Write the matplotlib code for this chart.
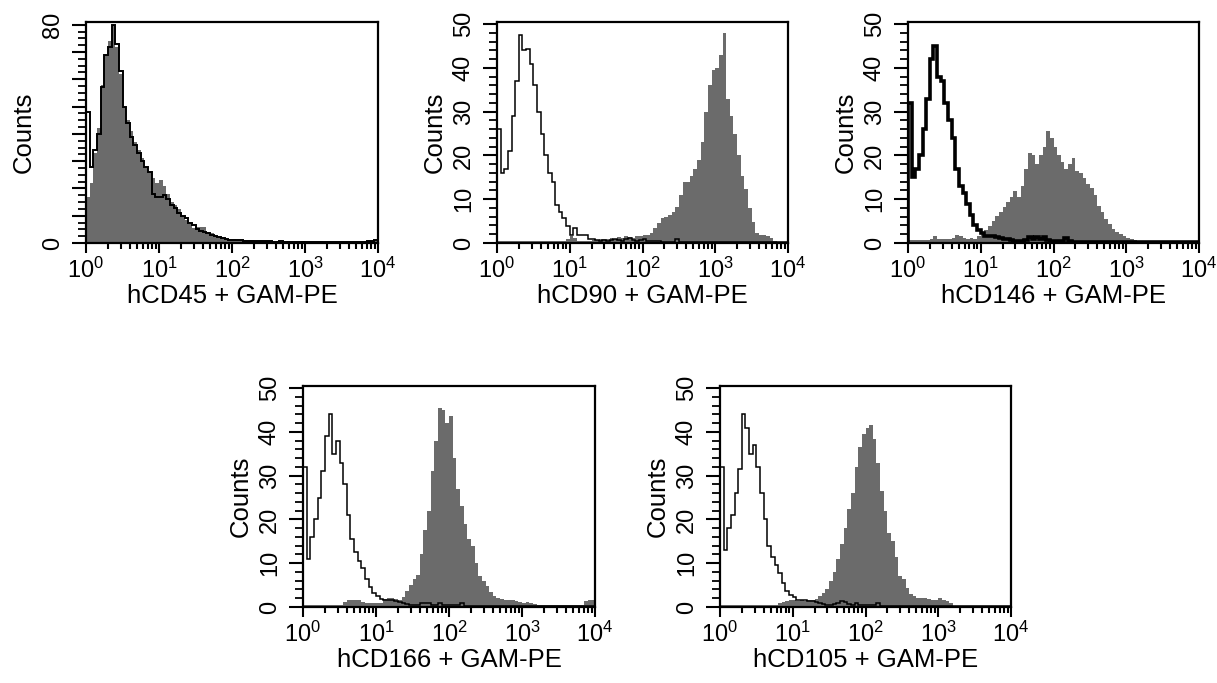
import numpy as np
import matplotlib
matplotlib.use("Agg")
import matplotlib.pyplot as plt
from matplotlib.ticker import LogLocator, FuncFormatter, MultipleLocator, NullFormatter

plt.rcParams['font.family'] = ['Liberation Sans', 'DejaVu Sans']
plt.rcParams['mathtext.default'] = 'regular'

# ---- data: 20 channels per decade, 10^0 .. 10^4 ----
bins_per_decade = 20
n_decades = 4

xlabels = ["hCD45 + GAM-PE", "hCD90 + GAM-PE", "hCD146 + GAM-PE",
           "hCD166 + GAM-PE", "hCD105 + GAM-PE"]
ymaxes = [81, 50.5, 50.5, 50.5, 50.5]
ytick_labels_shown = [[0, 80], [0, 10, 20, 30, 40, 50], [0, 10, 20, 30, 40, 50],
                      [0, 10, 20, 30, 40, 50], [0, 10, 20, 30, 40, 50]]

cd45_stained = [
    17, 22, 33, 42, 58, 69, 74, 80, 72, 62,
    50, 45, 41, 37, 34, 31, 28, 26, 24, 22,
    23, 21, 18, 15, 14, 12.5, 10, 8.5, 7, 5.5,
    5.8, 6, 6, 4.2, 3.6, 3, 2.4, 1.8, 1.6, 1.5,
    1.4, 1.2, 1.2, 1.0, 1.0, 1.0, 0.8, 0.8, 0.7, 0.7,
    0.6, 0.5, 0.6, 0.5, 0.4, 0.6, 0.5, 0.4, 0.5, 0.6,
    0.4, 0.5, 0.4, 0.5, 0.6, 0.4, 0.4, 0.5, 0.4, 0.5,
    0.4, 0.4, 0.5, 0.4, 0.4, 0.5, 0.4, 0.6, 0.6, 0.8]
cd45_control = [
    48, 28, 34, 40, 57, 69, 72, 80, 73, 63,
    50, 44, 39, 36, 33, 30, 28, 26, 18, 17,
    17, 17.5, 16, 14, 12.7, 11, 10, 9, 7.5, 6.5,
    5, 4.5, 4, 3.6, 3, 2.5, 2.2, 1.8, 1.4, 1.2,
    1.1, 1.0, 1.0, 0.9, 0.9, 0.8, 0.8, 0.7, 0.7, 0.6,
    0.6, 0.5, 0.5, 0.6, 0.5, 0.4, 0.5, 0.5, 0.4, 0.5,
    0.5, 0.4, 0.4, 0.5, 0.5, 0.4, 0.4, 0.5, 0.4, 0.4,
    0.5, 0.4, 0.4, 0.5, 0.4, 0.4, 0.5, 0.6, 0.8, 1.0]

cd90_stained = [
    0.4, 0.4, 0.4, 0.4, 0.4, 0.4, 0.4, 0.4, 0.4, 0.4,
    0.4, 0.4, 0.4, 0.4, 0.4, 0.4, 0.4, 0.4, 0.4, 0.8,
    1.5, 1.2, 0.5, 0.5, 0.5, 0.5, 0.6, 0.6, 0.8, 1.0,
    1.0, 1.2, 1.0, 1.3, 1.2, 1.5, 1.4, 1.2, 1.5, 1.6,
    1.8, 1.8, 2.3, 3.4, 4.5, 5.6, 6, 6.4, 7.1, 8.3,
    10.9, 13.9, 14, 15.4, 17, 19, 23, 30, 36, 39.5,
    40, 43, 48, 33, 29, 25, 20, 15.4, 12.4, 7.9,
    4.9, 2.3, 1.9, 1.9, 1.7, 1.1, 0.4, 0, 0, 0]
cd90_control = [
    26, 16, 17, 21, 29, 37, 47.5, 44, 44.4, 41,
    36, 30, 25, 20, 16, 14, 8.6, 7, 5.6, 3.8,
    1.9, 3.4, 1.9, 1.9, 1.9, 1.0, 0.8, 0.6, 0.5, 0.6,
    0.5, 0.6, 1.0, 0.6, 0.5, 1.0, 1.2, 0.6, 0.5, 0.6,
    1.0, 0.5, 0.4, 0.4, 0.4, 0.3, 0.3, 0.3, 0.3, 1.0,
    0.3, 0.3, 0.3, 0.3, 0.3, 0.3, 0.3, 0.3, 0.3, 0.3,
    0.2, 0.2, 0.2, 0.2, 0.2, 0.2, 0.2, 0.2, 0.2, 0.2,
    0.2, 0.2, 0.2, 0.2, 0.2, 0.2, 0.2, 0.2, 0.2, 0.2]

cd146_stained = [
    0.6, 0.6, 0.6, 0.7, 0.6, 0.7, 1.0, 1.7, 0.8, 0.8,
    1.0, 1.0, 1.2, 1.8, 1.5, 1.2, 1.0, 1.2, 1.0, 1.5,
    2.2, 3.0, 3.8, 5.0, 6.2, 7.0, 8.2, 9.3, 10.5, 11.8,
    10.5, 13, 17, 20.5, 20, 18, 20, 22, 25.5, 24,
    22, 20, 18.4, 17, 18, 19.5, 16.5, 16, 14.8, 13.5,
    12.5, 11, 8.5, 7, 5.5, 4.4, 3.3, 2.5, 2.0, 1.5,
    1.2, 1.0, 0.6, 0.3, 0, 0, 0, 0, 0, 0,
    0, 0, 0, 0, 0, 0, 0, 0, 0, 0]
cd146_control = [
    32, 15, 17, 20, 26, 33, 42, 45, 38, 37,
    32, 28, 24, 17, 13, 11.5, 9, 6.5, 4.2, 3,
    2.3, 1.7, 1.6, 1.5, 1.3, 1.1, 1.0, 0.8, 0.6, 0.5,
    0.4, 0.5, 0.6, 1.3, 1.0, 1.4, 0.8, 1.3, 0.6, 0.4,
    0.4, 0.4, 0.4, 1.2, 0.5, 0.3, 0.3, 0.3, 0.3, 0.3,
    0.3, 0.3, 0.3, 0.3, 0.3, 0.3, 0.3, 0.3, 0.3, 0.3,
    0.2, 0.2, 0.2, 0.2, 0.2, 0.2, 0.2, 0.2, 0.2, 0.2,
    0.2, 0.2, 0.2, 0.2, 0.2, 0.2, 0.2, 0.2, 0.2, 0.2]

cd166_stained = [
    0.5, 0.5, 0.5, 0.5, 0.5, 0.5, 0.5, 0.5, 0.5, 0.5,
    0.5, 1.2, 1.7, 1.5, 1.7, 1.6, 1.2, 1.0, 0.8, 0.8,
    0.8, 1.0, 1.8, 2.0, 2.0, 1.8, 1.5, 2.2, 3.6, 5.0,
    6.3, 7.4, 12, 17.6, 22, 31, 38, 45.5, 45, 42,
    43.6, 34, 27, 23, 19, 15.5, 14, 10, 7, 6,
    4.8, 3.4, 2.4, 2.0, 1.8, 1.7, 1.7, 1.5, 1.4, 1.1,
    1.0, 1.2, 1.0, 0.6, 0.4, 0.4, 0.4, 0.4, 0.4, 0.4,
    0.4, 0.4, 0.4, 0.4, 0.4, 0.4, 0.4, 1.4, 1.7, 1.7]
cd166_control = [
    32, 11, 16, 20, 25, 31, 39, 44, 35, 38,
    33, 28, 21, 15.5, 12.5, 10.5, 9, 6.5, 4.5, 3.3,
    2.5, 1.8, 1.7, 1.6, 1.5, 1.3, 1.1, 0.8, 0.6, 0.5,
    0.4, 0.5, 0.9, 1.0, 1.0, 0.5, 0.5, 1.0, 0.5, 0.4,
    0.4, 0.4, 0.4, 1.0, 0.3, 0.3, 0.3, 0.3, 0.3, 0.3,
    0.3, 0.3, 0.3, 0.3, 0.3, 0.3, 0.3, 0.3, 0.3, 0.3,
    0.2, 0.2, 0.2, 0.2, 0.2, 0.2, 0.2, 0.2, 0.2, 0.2,
    0.2, 0.2, 0.2, 0.2, 0.2, 0.2, 0.2, 0.2, 0.2, 0.2]

cd105_stained = [
    0.4, 0.4, 0.4, 0.4, 0.4, 0.4, 0.4, 0.4, 0.4, 0.4,
    0.4, 0.4, 0.4, 0.4, 0.4, 0.4, 0.8, 1.2, 1.4, 1.5,
    1.5, 1.3, 1.5, 1.4, 1.5, 1.6, 1.8, 2.5, 3.3, 4.2,
    6.0, 8.0, 11, 14.5, 18, 22.5, 26, 32, 36.5, 39.5,
    41, 41.7, 38.5, 33, 26.5, 22, 17, 15, 11.5, 7,
    6.3, 4.4, 2.9, 2.4, 2.1, 2.0, 2.0, 1.8, 1.7, 1.7,
    2.1, 1.6, 1.3, 1.0, 0.3, 0, 0, 0, 0, 0,
    0, 0, 0, 0, 0, 0, 0, 0, 0, 0]
cd105_control = [
    32, 13, 18, 21, 26, 31.5, 44, 41, 35, 37,
    32, 26, 20, 14, 11.5, 9.5, 7.8, 5.5, 3.6, 2.8,
    2.2, 1.7, 1.6, 1.5, 1.4, 1.4, 1.2, 1.0, 0.6, 0.5,
    0.5, 0.6, 1.0, 1.3, 1.2, 0.6, 0.5, 1.0, 0.5, 0.4,
    0.4, 0.4, 0.4, 1.0, 0.3, 0.3, 0.3, 0.3, 0.3, 0.3,
    0.3, 0.3, 0.3, 0.3, 0.3, 0.3, 0.3, 0.3, 0.3, 0.3,
    0.2, 0.2, 0.2, 0.2, 0.2, 0.2, 0.2, 0.2, 0.2, 0.2,
    0.2, 0.2, 0.2, 0.2, 0.2, 0.2, 0.2, 0.2, 0.2, 0.2]

stained = [cd45_stained, cd90_stained, cd146_stained, cd166_stained, cd105_stained]
control = [cd45_control, cd90_control, cd146_control, cd166_control, cd105_control]

# ---- layout (pixel boxes of the plot frames) ----
W, H = 1217, 683
boxes = [(86, 22, 378, 243), (497, 22, 788, 243), (908, 22, 1199, 243),
         (303, 386, 595, 607), (720, 386, 1011, 607)]
line_widths = [1.4, 1.1, 2.6, 1.1, 1.1]
yminor_step = [2.5, 2, 2, 2, 2]

edges = 10.0 ** (np.arange(bins_per_decade * n_decades + 1) / bins_per_decade)

fig = plt.figure(figsize=(W / 100, H / 100), dpi=100)
fig.patch.set_facecolor('white')

gray = '#6b6b6b'
for k in range(5):
    l, t, r, b = boxes[k]
    ax = fig.add_axes([l / W, 1 - b / H, (r - l) / W, (b - t) / H])
    ax.stairs(stained[k], edges, baseline=0, fill=True, color=gray, lw=0, zorder=2)
    ax.stairs(control[k], edges, baseline=0, fill=False, color='black',
              lw=line_widths[k], zorder=3)
    ax.set_xscale('log')
    ax.set_xlim(1, 1e4)
    ax.set_ylim(0, ymaxes[k])

    ax.xaxis.set_major_locator(LogLocator(base=10, numticks=10))
    ax.xaxis.set_minor_locator(LogLocator(base=10, subs=np.arange(2, 10), numticks=20))
    ax.xaxis.set_major_formatter(FuncFormatter(lambda v, p: r'$10^{%d}$' % round(np.log10(v))))
    ax.xaxis.set_minor_formatter(NullFormatter())

    shown = ytick_labels_shown[k]
    ax.yaxis.set_major_locator(MultipleLocator(10))
    ax.yaxis.set_minor_locator(MultipleLocator(yminor_step[k]))
    ax.yaxis.set_major_formatter(FuncFormatter(
        lambda v, p, s=shown: ('%d' % round(v)) if round(v) in s and abs(v - round(v)) < 1e-6 else ''))

    ax.tick_params(axis='x', which='major', direction='out', length=7.5, width=1.5,
                   labelsize=17, pad=3)
    ax.tick_params(axis='x', which='minor', direction='out', length=4.5, width=1.5)
    ax.tick_params(axis='y', which='major', direction='out', length=10, width=1.5,
                   labelsize=17, pad=6)
    ax.tick_params(axis='y', which='minor', direction='out', length=6, width=1.3)
    for lab in ax.get_yticklabels():
        lab.set_rotation(90)
        lab.set_va('center')

    for sp in ax.spines.values():
        sp.set_linewidth(1.6)
        sp.set_zorder(4)

    ax.set_xlabel(xlabels[k], fontsize=18.5, labelpad=1)
    ax.set_ylabel('Counts', fontsize=18.5, labelpad=4)

fig.savefig('out.png', dpi=100, facecolor='white')
